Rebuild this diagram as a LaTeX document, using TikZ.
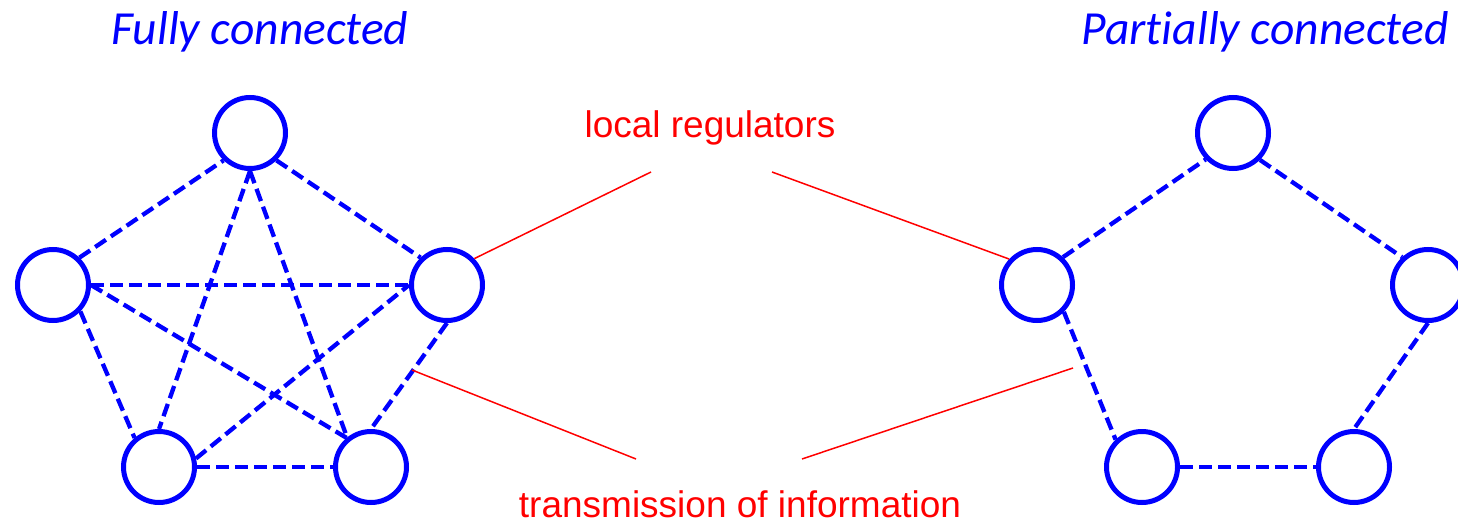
\documentclass[tikz,border=0pt]{standalone}
\usepackage{fontspec}
\newfontfamily\titlefont[Ligatures=NoCommon]{Carlito}
\newfontfamily\labelfont{Liberation Sans}
\begin{document}
\begin{tikzpicture}[x=1pt,y=-1pt,
  unit/.style={circle,draw=blue,line width=5pt,minimum size=71pt,inner sep=0pt},
  link/.style={draw=blue,line width=4.3pt,dash pattern=on 13pt off 6pt},
  pointer/.style={draw=red,line width=1.5pt},
  title/.style={text=blue,font=\titlefont\itshape\fontsize{47.5}{52}\selectfont,anchor=base,inner sep=0pt},
  caption/.style={text=red,font=\labelfont\fontsize{37}{40}\selectfont,anchor=base,inner sep=0pt}]
\useasboundingbox (0,0) rectangle (1458,524);
\clip (0,0) rectangle (1458,524);
% titles
\node[title] (t1) at (260,45) {Fully connected};
\node[title] (t2) at (1265,45) {Partially connected};
% left network
\node[unit] (T1) at (250,133) {};
\node[unit] (L1) at (53,285) {};
\node[unit] (R1) at (447,285) {};
\node[unit] (BL1) at (159,467) {};
\node[unit] (BR1) at (371,467) {};
\draw[link] (L1.46) -- (T1.226);
\draw[link] (T1.-46) -- (R1.134);
\draw[link] (T1.south) -- (BL1.north);
\draw[link] (T1.south) -- (BR1.129);
\draw[link] (L1.east) -- (R1.west);
\draw[link] (L1.east) -- (BR1.130);
\draw[link] (L1.-44) -- (BL1.130);
\draw[link] (BL1.13) -- (R1.west);
\draw[link] (R1.south) -- (BR1.north);
\draw[link] (BL1.east) -- (BR1.west);
% right network
\node[unit] (T2) at (1233,133) {};
\node[unit] (L2) at (1037,285) {};
\node[unit] (R2) at (1428,285) {};
\node[unit] (BL2) at (1142,467) {};
\node[unit] (BR2) at (1354,467) {};
\draw[link] (L2.47) -- (T2.224);
\draw[link] (T2.-45) -- (R2.133);
\draw[link] (L2.-45) -- (BL2.134);
\draw[link] (R2.south) -- (BR2.north);
\draw[link] (BL2.east) -- (BR2.west);
% labels
\node[caption] (lr) at (710,137) {local regulators};
\node[caption] (ti) at (740,517) {transmission of information};
\coordinate (a1) at (651,172);
\coordinate (a2) at (772,172);
\coordinate (b0) at (412,370);
\coordinate (b1) at (636,459);
\coordinate (b2) at (802,459);
\coordinate (b3) at (1073,368);
\draw[pointer] (R1.44) -- (a1);
\draw[pointer] (a2) -- (L2.137);
\draw[pointer] (b0) -- (b1);
\draw[pointer] (b2) -- (b3);
\end{tikzpicture}
\end{document}
